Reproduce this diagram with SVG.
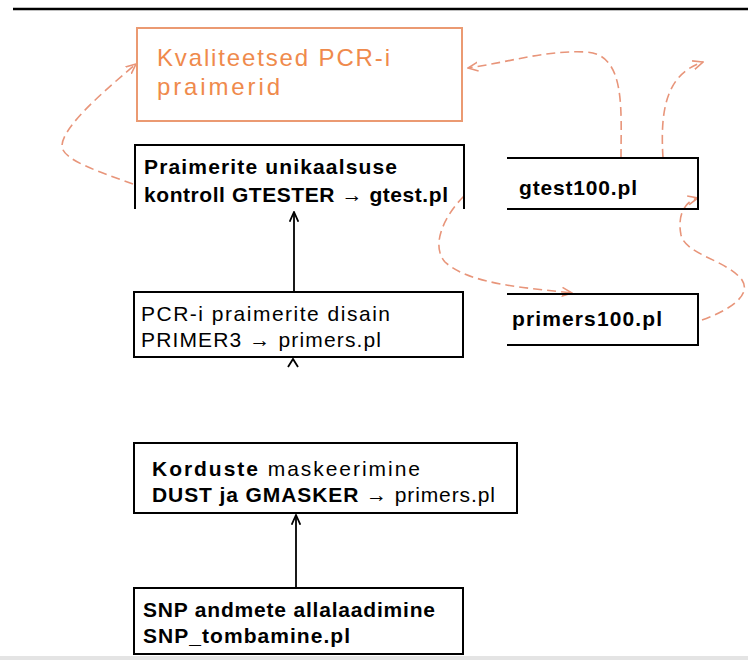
<svg xmlns="http://www.w3.org/2000/svg" width="748" height="664" viewBox="0 0 748 664">
  <style>
    .box{fill:#ffffff;stroke:#000000;stroke-width:2}
    .open{fill:none;stroke:#000000;stroke-width:2}
    .t{font-family:"Liberation Sans",Arial,sans-serif;font-size:21px;fill:#000000}
    .b{font-weight:bold}
    .o{font-family:"Liberation Sans",Arial,sans-serif;font-size:24px;fill:#ef8a4c}
    .k{fill:none;stroke:#000000;stroke-width:1.8}
    .d{fill:none;stroke:#e8957a;stroke-width:1.6;stroke-dasharray:9 5}
  </style>
  <defs>
    <marker id="ah" viewBox="0 0 10 10" refX="9" refY="5" markerWidth="6" markerHeight="6" orient="auto">
      <path d="M0,1 L9,5 L0,9" fill="none" stroke="#000000" stroke-width="1.6"/>
    </marker>
    <marker id="ao" viewBox="0 0 10 10" refX="9" refY="5" markerWidth="7" markerHeight="7" orient="auto">
      <path d="M0,1 L9,5 L0,9" fill="none" stroke="#e8957a" stroke-width="1.4"/>
    </marker>
  </defs>
  <rect x="0" y="0" width="748" height="664" fill="#ffffff"/>
  <line x1="13" y1="9" x2="748" y2="9" stroke="#000000" stroke-width="2.5"/>
  <rect x="0" y="656" width="748" height="4" fill="#e4e4e4"/>

  <g id="connectors">
    <line class="k" x1="294" y1="292" x2="294" y2="212" marker-end="url(#ah)"/>
    <path class="k" d="M288,367 L293,359 L298,367"/>
    <line class="k" x1="296" y1="588" x2="296" y2="515" marker-end="url(#ah)"/>
    <path class="d" d="M133,184 C100,172 62,160 62,146 C62,126 110,86 136,64" marker-end="url(#ao)"/>
    <path class="d" d="M621,158 C621,110 626,54 586,52 C546,50 510,62 468,68" marker-end="url(#ao)"/>
    <path class="d" d="M663,158 C660,110 666,74 703,62" marker-end="url(#ao)"/>
    <path class="d" d="M464,196 C445,215 430,245 445,262 C470,285 530,288 572,293" marker-end="url(#ao)"/>
    <path class="d" d="M702,320 C730,310 752,295 742,280 C727,260 686,255 681,235 C677,215 685,201 698,198" marker-end="url(#ao)"/>
  </g>

  <g id="node-kvaliteetsed">
    <rect x="137" y="28" width="325" height="93" fill="#ffffff" stroke="#eb9a72" stroke-width="2"/>
    <text class="o" x="157" y="66" textLength="233" lengthAdjust="spacing">Kvaliteetsed PCR-i</text>
    <text class="o" x="157" y="95" textLength="123" lengthAdjust="spacing">praimerid</text>
  </g>

  <g id="node-gtester">
    <path class="open" d="M135,209 V145 H464 V209"/>
    <text class="t b" x="144" y="174" textLength="253" lengthAdjust="spacing">Praimerite unikaalsuse</text>
    <text class="t b" x="144" y="202" textLength="304" lengthAdjust="spacing">kontroll GTESTER → gtest.pl</text>
  </g>

  <g id="node-gtest100">
    <path class="open" d="M507,158 H698 V209 H507"/>
    <text class="t b" x="519" y="195" textLength="118" lengthAdjust="spacing">gtest100.pl</text>
  </g>

  <g id="node-primers100">
    <path class="open" d="M507,294 H698 V345 H507"/>
    <text class="t b" x="512" y="326" textLength="150" lengthAdjust="spacing">primers100.pl</text>
  </g>

  <g id="node-primer3">
    <rect class="box" x="134" y="292" width="329" height="65"/>
    <text class="t" x="141" y="321" textLength="249" lengthAdjust="spacing">PCR-i praimerite disain</text>
    <text class="t" x="141" y="347" textLength="240" lengthAdjust="spacing">PRIMER3 → primers.pl</text>
  </g>

  <g id="node-masking">
    <rect class="box" x="134" y="443" width="383" height="70"/>
    <text class="t" x="152" y="476" textLength="268" lengthAdjust="spacing"><tspan class="b">Korduste</tspan> maskeerimine</text>
    <text class="t" x="152" y="502" textLength="343" lengthAdjust="spacing"><tspan class="b">DUST ja GMASKER</tspan> → primers.pl</text>
  </g>

  <g id="node-snp">
    <rect class="box" x="134" y="588" width="329" height="66"/>
    <text class="t b" x="143" y="617" textLength="292" lengthAdjust="spacing">SNP andmete allalaadimine</text>
    <text class="t b" x="143" y="643" textLength="207" lengthAdjust="spacing">SNP_tombamine.pl</text>
  </g>
</svg>
